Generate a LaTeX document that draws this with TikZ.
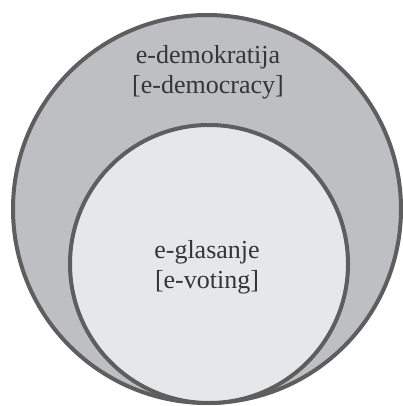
\documentclass[tikz,border=0pt]{standalone}
\usepackage{xcolor}
\usepackage{fontspec}
\setmainfont{Liberation Serif}
\usepackage{tikz}
\usetikzlibrary{positioning}
\definecolor{ringgray}{HTML}{BEBFC2}
\definecolor{coregray}{HTML}{E6E7E8}
\definecolor{edgegray}{HTML}{5E5E5F}
\definecolor{textgray}{HTML}{353537}

\begin{document}
\begin{tikzpicture}[x=1pt, y=1pt,
    setcircle/.style={circle, draw=edgegray, line width=4pt, inner sep=0pt},
    setlabel/.style={align=center, text=textgray, font=\fontsize{26}{30}\selectfont}]
    \useasboundingbox (0,0) rectangle (403,-406);
    \node[setcircle, fill=ringgray, minimum size=388pt] (outer) at (207,-209) {};
    \node[setcircle, fill=coregray, minimum size=278pt] (inner) at (209,-264) {};
    \node[setlabel] (outerlabel) at (208,-72) {e-demokratija\\{}[e-democracy]};
    \node[setlabel] (innerlabel) at (207,-267) {e-glasanje\\{}[e-voting]};
  \end{tikzpicture}
\end{document}
